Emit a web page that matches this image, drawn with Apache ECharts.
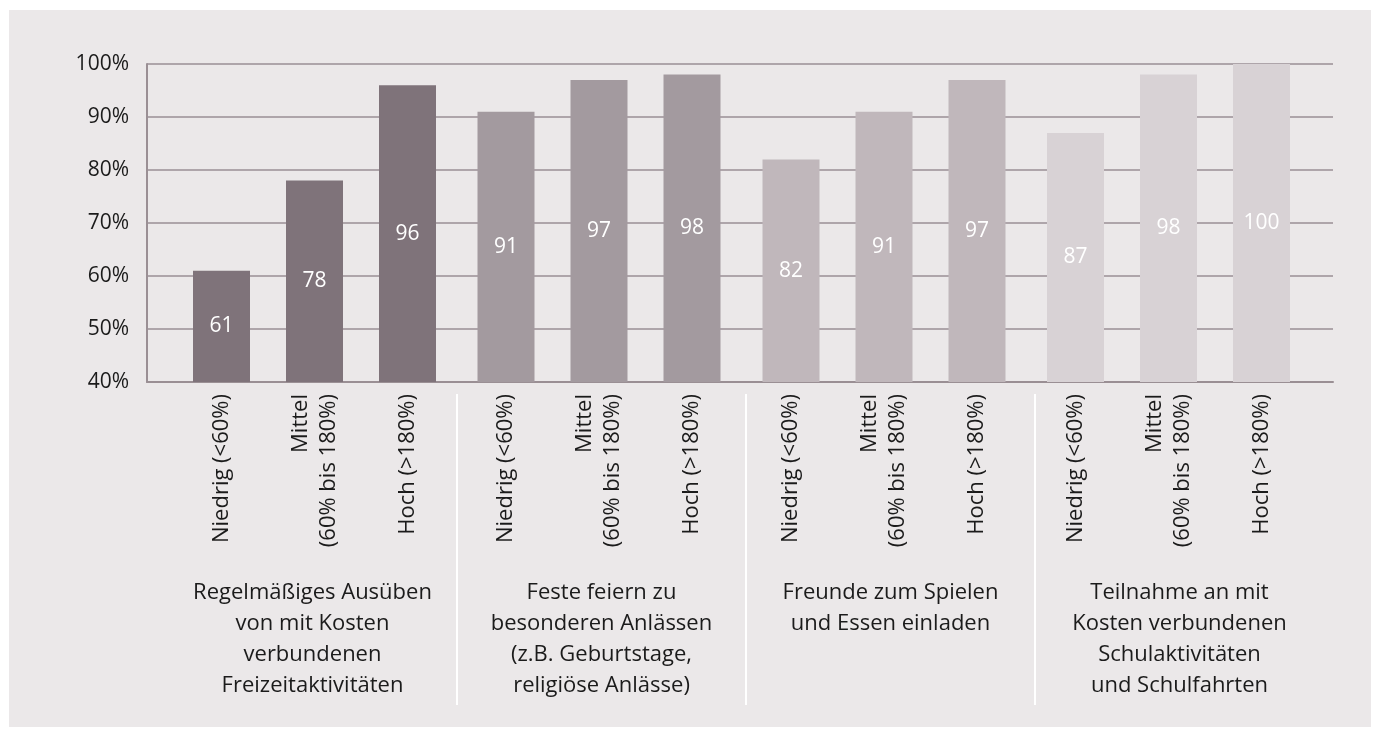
<!DOCTYPE html>
<html lang="de">
<head>
<meta charset="utf-8">
<title>Teilhabe nach Einkommensgruppen</title>
<script src="https://cdn.jsdelivr.net/npm/echarts@6/dist/echarts.min.js"></script>
<style>
  html, body { margin: 0; padding: 0; background: #ffffff; }
  #chart { width: 1376px; height: 729px; }
</style>
</head>
<body>
<div id="chart"></div>
<script>
// Activity groups (bottom labels) and income levels (rotated labels)
const groups = [
  'Regelmäßiges Ausüben\nvon mit Kosten\nverbundenen\nFreizeitaktivitäten',
  'Feste feiern zu\nbesonderen Anlässen\n(z.B. Geburtstage,\nreligiöse Anlässe)',
  'Freunde zum Spielen\nund Essen einladen',
  'Teilnahme an mit\nKosten verbundenen\nSchulaktivitäten\nund Schulfahrten'
];
const levels = ['Niedrig (<60%)', 'Mittel\n(60% bis 180%)', 'Hoch (>180%)'];

// Shares in percent per income level
const freizeit = [61, 78, 96];
const feste    = [91, 97, 98];
const freunde  = [82, 91, 97];
const schule   = [87, 98, 100];

const yMin = 40, yMax = 100, yStep = 10;

const seriesData = [freizeit, feste, freunde, schule];
const barColors = ['#7f737a', '#a39a9f', '#c0b7bb', '#d8d2d5'];

const FONT = '"Open Sans", "Source Sans Pro", sans-serif';
const TEXT = '#1b1b1b';
const LINE = '#9a8f94';

// Plot frame (axes + gridlines), one bar grid per activity group, one grid for group captions
const frame = { left: 147, right: 43, top: 64, bottom: 347 };
const barGrids = [
  { left: 175,   width: 279 },
  { left: 459.5, width: 279 },
  { left: 744.5, width: 279 },
  { left: 1029,  width: 279 }
];

const grid = [
  frame,
  ...barGrids.map(g => ({ left: g.left, width: g.width, top: frame.top, bottom: frame.bottom })),
  { left: 168, right: 52, top: 394, bottom: 24 }
];

const xAxis = [
  {
    gridIndex: 0, type: 'category', data: [''],
    axisLine: { show: true, lineStyle: { color: LINE, width: 2 } },
    axisTick: { show: false }, axisLabel: { show: false }
  },
  ...barGrids.map((g, i) => ({
    gridIndex: i + 1, type: 'category', data: levels,
    axisLine: { show: false }, axisTick: { show: false },
    axisLabel: {
      interval: 0, rotate: 90, margin: 12,
      fontFamily: FONT, fontSize: 22, color: TEXT, lineHeight: 28
    }
  })),
  {
    gridIndex: 5, type: 'category', data: groups, position: 'top',
    axisLine: { show: false }, axisTick: { show: false },
    axisLabel: {
      interval: 0, inside: true, margin: 183, verticalAlign: 'top',
      fontFamily: FONT, fontSize: 22, color: TEXT, lineHeight: 31, align: 'center'
    },
    splitLine: {
      show: true, showMinLine: false, showMaxLine: false,
      lineStyle: { color: '#ffffff', width: 2 }
    }
  }
];

const yAxis = [
  {
    gridIndex: 0, type: 'value', min: yMin, max: yMax, interval: yStep,
    axisLine: { show: true, lineStyle: { color: LINE, width: 2 } },
    axisTick: { show: false },
    axisLabel: { formatter: '{value}%', fontFamily: FONT, fontSize: 21, color: TEXT, margin: 18 },
    splitLine: { show: true, lineStyle: { color: LINE, width: 1.5 } }
  },
  ...barGrids.map((g, i) => ({
    gridIndex: i + 1, type: 'value', min: yMin, max: yMax, interval: yStep,
    show: false, splitLine: { show: false }
  })),
  { gridIndex: 5, type: 'value', show: false, splitLine: { show: false } }
];

const series = seriesData.map((d, i) => ({
  type: 'bar',
  xAxisIndex: i + 1, yAxisIndex: i + 1,
  data: d,
  barWidth: 57,
  clip: true,
  itemStyle: { color: barColors[i] },
  label: {
    show: true, position: 'inside', color: '#ffffff',
    fontFamily: FONT, fontSize: 21
  },
  z: 3
}));

const chart = echarts.init(document.getElementById('chart'), null, { renderer: 'canvas' });
chart.setOption({
  animation: false,
  backgroundColor: 'transparent',
  graphic: [{
    type: 'rect', z: -10, silent: true,
    shape: { x: 9, y: 10, width: 1362, height: 717 },
    style: { fill: '#ebe8e9' }
  }],
  grid,
  xAxis,
  yAxis,
  series
});
</script>
</body>
</html>
